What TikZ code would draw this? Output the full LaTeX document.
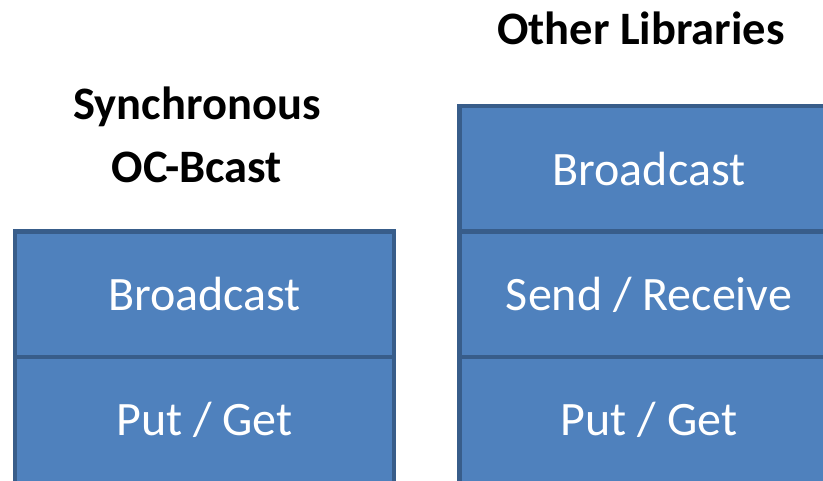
\documentclass[tikz,border=0pt]{standalone}
\usepackage{fontspec}
\setmainfont{Carlito}
\definecolor{layerfill}{HTML}{4F81BD}
\definecolor{layeredge}{HTML}{385D8A}
\begin{document}
\begin{tikzpicture}[x=1pt,y=-1pt,
  layer/.style={draw=layeredge, fill=layerfill, line width=4.5pt,
    minimum width=379pt, minimum height=125.5pt, inner sep=0pt,
    text=white, font=\fontsize{48}{57}\selectfont},
  heading/.style={align=center, inner sep=0pt,
    font=\bfseries\fontsize{46.5}{63}\selectfont}]
  \useasboundingbox (0,0) rectangle (823,481);
  \begin{scope}
    \clip (0,0) rectangle (823,481);
    % left stack
    \node[layer] (lput) at (204.5,420) {Put / Get};
    \node[layer] (lbc)  at (204.5,294.5) {Broadcast};
    % right stack
    \node[layer] (rput) at (649,420) {Put / Get};
    \node[layer] (rsr)  at (649,294.5) {Send / Receive};
    \node[layer] (rbc)  at (649,169) {Broadcast};
  \end{scope}
  \node[heading] (ltitle) at (197,135) {Synchronous\\OC-Bcast};
  \node[heading] (rtitle) at (641,28) {Other Libraries};
\end{tikzpicture}
\end{document}
